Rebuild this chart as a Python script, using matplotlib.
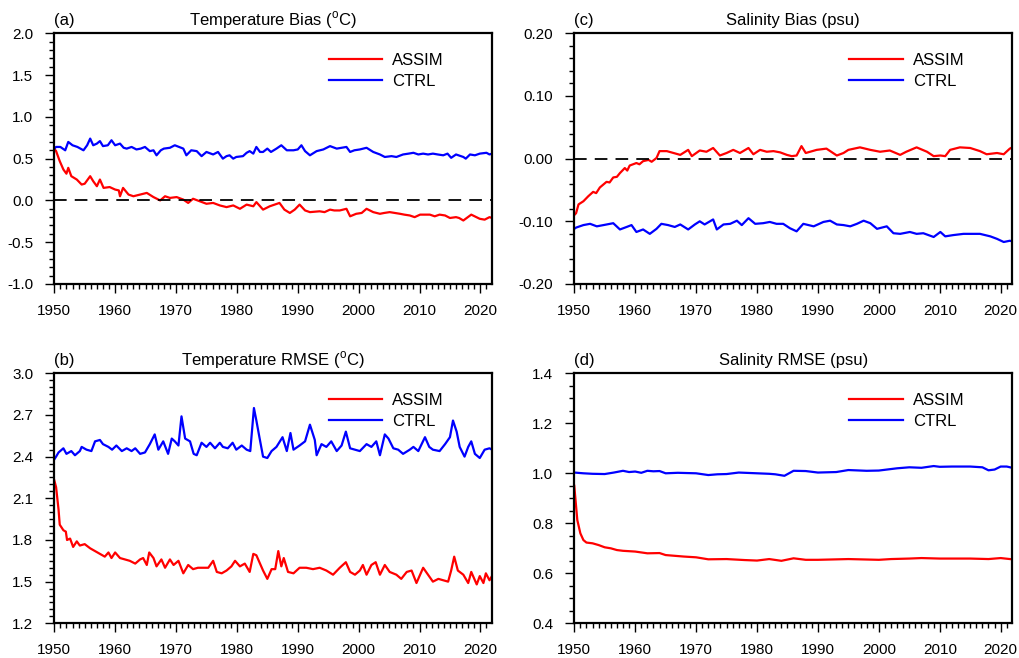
import matplotlib
matplotlib.use('Agg')
import matplotlib.pyplot as plt
import numpy as np
from matplotlib.ticker import MultipleLocator, FormatStrFormatter

plt.rcParams['font.family'] = ['Liberation Sans', 'DejaVu Sans']
plt.rcParams['mathtext.fontset'] = 'custom'
plt.rcParams['mathtext.rm'] = 'Liberation Sans'

# (a) temperature bias
tb_ctrl_yr = [1950.0, 1950.3, 1951.0, 1951.8, 1952.3, 1953.0, 1953.8, 1954.8, 1955.4, 1955.9,
              1956.4, 1957.0, 1957.5, 1958.0, 1958.8, 1959.4, 1960.0, 1960.8, 1961.4, 1961.9,
              1962.7, 1963.5, 1964.2, 1964.9, 1965.7, 1966.3, 1966.8, 1967.5, 1968.0, 1969.0,
              1969.8, 1970.5, 1971.2, 1971.7, 1972.5, 1973.4, 1974.2, 1975.0, 1976.1, 1976.9,
              1977.7, 1978.3, 1978.8, 1979.4, 1979.9, 1981.0, 1981.6, 1982.1, 1982.7, 1983.2,
              1983.8, 1984.3, 1985.0, 1985.6, 1986.5, 1987.3, 1988.2, 1989.3, 1990.0, 1990.6,
              1991.2, 1992.0, 1993.1, 1994.2, 1995.3, 1996.4, 1997.2, 1998.0, 1998.6, 1999.3,
              2000.2, 2001.3, 2002.4, 2003.5, 2004.3, 2005.4, 2006.2, 2007.3, 2008.2, 2009.0,
              2009.8, 2010.6, 2011.4, 2012.2, 2013.0, 2013.9, 2014.6, 2015.2, 2016.0, 2017.2,
              2017.6, 2018.3, 2019.1, 2019.9, 2021.0, 2021.5, 2021.9]
tb_ctrl = [0.62, 0.64, 0.64, 0.60, 0.70, 0.66, 0.64, 0.60, 0.66, 0.74,
           0.66, 0.68, 0.71, 0.65, 0.66, 0.72, 0.66, 0.68, 0.63, 0.62,
           0.64, 0.61, 0.62, 0.64, 0.59, 0.60, 0.54, 0.60, 0.62, 0.63,
           0.66, 0.64, 0.62, 0.54, 0.60, 0.59, 0.53, 0.58, 0.55, 0.58,
           0.50, 0.53, 0.54, 0.50, 0.52, 0.53, 0.57, 0.59, 0.56, 0.64,
           0.58, 0.58, 0.62, 0.58, 0.62, 0.66, 0.60, 0.60, 0.61, 0.66,
           0.59, 0.54, 0.59, 0.61, 0.65, 0.62, 0.63, 0.64, 0.58, 0.60,
           0.61, 0.63, 0.58, 0.55, 0.52, 0.53, 0.52, 0.55, 0.56, 0.57,
           0.55, 0.56, 0.55, 0.56, 0.55, 0.54, 0.56, 0.51, 0.55, 0.52,
           0.50, 0.55, 0.54, 0.56, 0.57, 0.55, 0.56]
tb_assim_yr = [1950.0, 1950.3, 1950.9, 1951.5, 1952.0, 1952.3, 1952.8, 1953.7, 1954.5, 1955.0,
               1955.9, 1956.4, 1957.0, 1957.5, 1958.1, 1959.1, 1960.0, 1960.6, 1960.8, 1961.3,
               1962.2, 1963.0, 1964.1, 1965.2, 1966.3, 1967.4, 1968.2, 1969.0, 1970.1, 1971.2,
               1972.0, 1972.8, 1973.9, 1975.0, 1976.1, 1977.2, 1978.3, 1979.4, 1980.5, 1981.6,
               1982.7, 1983.2, 1984.3, 1985.4, 1987.0, 1987.8, 1988.7, 1989.5, 1990.3, 1991.2,
               1992.0, 1993.6, 1994.4, 1995.3, 1996.0, 1996.9, 1998.0, 1998.6, 1999.6, 2000.5,
               2001.3, 2002.4, 2003.5, 2004.2, 2005.1, 2006.8, 2007.5, 2008.4, 2009.2, 2010.1,
               2011.7, 2012.5, 2013.3, 2014.2, 2015.0, 2016.0, 2016.5, 2017.2, 2018.5, 2019.9,
               2020.7, 2021.5, 2021.9]
tb_assim = [0.62, 0.59, 0.47, 0.37, 0.32, 0.39, 0.29, 0.25, 0.19, 0.20,
            0.29, 0.23, 0.17, 0.25, 0.15, 0.16, 0.13, 0.12, 0.05, 0.15,
            0.07, 0.05, 0.07, 0.09, 0.04, 0.00, 0.05, 0.03, 0.04, 0.01,
            -0.03, 0.02, -0.01, -0.04, -0.03, -0.06, -0.08, -0.06, -0.10, -0.05,
            -0.07, -0.02, -0.11, -0.07, -0.03, -0.11, -0.15, -0.11, -0.05, -0.12,
            -0.14, -0.13, -0.14, -0.11, -0.12, -0.12, -0.10, -0.19, -0.16, -0.15,
            -0.10, -0.14, -0.16, -0.15, -0.14, -0.16, -0.17, -0.18, -0.20, -0.17,
            -0.17, -0.19, -0.17, -0.18, -0.21, -0.20, -0.21, -0.24, -0.17, -0.22,
            -0.23, -0.20, -0.21]

# (b) temperature RMSE
tr_ctrl_yr = [1950.0, 1950.3, 1950.7, 1951.5, 1952.0, 1952.8, 1953.4, 1954.2, 1954.5, 1955.3,
              1956.1, 1956.7, 1957.5, 1958.0, 1958.9, 1959.5, 1960.2, 1961.1, 1961.9, 1962.7,
              1963.3, 1964.1, 1964.9, 1965.7, 1966.5, 1967.1, 1967.9, 1968.7, 1969.3, 1969.8,
              1970.4, 1970.9, 1971.5, 1972.3, 1972.9, 1973.4, 1974.2, 1975.0, 1975.6, 1976.4,
              1977.2, 1977.7, 1978.5, 1979.3, 1979.9, 1980.8, 1981.6, 1982.2, 1982.8, 1983.2,
              1983.7, 1984.3, 1985.0, 1985.7, 1986.5, 1987.5, 1988.2, 1988.8, 1989.3, 1990.3,
              1991.2, 1992.0, 1992.8, 1993.1, 1993.9, 1994.7, 1995.5, 1996.4, 1997.2, 1997.9,
              1998.6, 1999.4, 2000.2, 2001.3, 2002.1, 2002.9, 2003.5, 2004.3, 2004.9, 2005.7,
              2006.5, 2007.3, 2008.4, 2009.0, 2009.8, 2010.9, 2011.6, 2012.2, 2013.3, 2014.2,
              2015.0, 2015.5, 2016.1, 2016.6, 2017.4, 2018.0, 2018.5, 2019.1, 2019.9, 2020.7,
              2021.5, 2021.9]
tr_ctrl = [2.38, 2.40, 2.43, 2.46, 2.42, 2.44, 2.41, 2.44, 2.47, 2.45,
           2.44, 2.51, 2.52, 2.49, 2.47, 2.45, 2.48, 2.44, 2.46, 2.44,
           2.46, 2.42, 2.43, 2.49, 2.56, 2.45, 2.51, 2.42, 2.53, 2.51,
           2.48, 2.69, 2.53, 2.51, 2.42, 2.41, 2.50, 2.47, 2.50, 2.46,
           2.50, 2.47, 2.46, 2.50, 2.45, 2.48, 2.45, 2.44, 2.75, 2.66,
           2.54, 2.40, 2.39, 2.44, 2.47, 2.54, 2.44, 2.57, 2.45, 2.48,
           2.51, 2.63, 2.52, 2.41, 2.49, 2.47, 2.51, 2.44, 2.48, 2.58,
           2.46, 2.45, 2.44, 2.49, 2.47, 2.51, 2.41, 2.56, 2.53, 2.46,
           2.45, 2.42, 2.45, 2.47, 2.44, 2.54, 2.47, 2.45, 2.44, 2.49,
           2.54, 2.66, 2.58, 2.47, 2.40, 2.47, 2.51, 2.42, 2.39, 2.45,
           2.46, 2.45]
tr_assim_yr = [1950.0, 1950.3, 1950.7, 1950.9, 1951.5, 1951.9, 1952.1, 1952.6, 1953.1, 1953.7,
               1954.2, 1955.0, 1955.9, 1956.7, 1957.5, 1958.3, 1958.9, 1959.4, 1960.0, 1960.8,
               1961.6, 1962.4, 1963.3, 1964.1, 1964.6, 1965.2, 1965.6, 1966.3, 1966.8, 1967.6,
               1968.2, 1969.0, 1969.6, 1970.4, 1971.2, 1972.0, 1972.8, 1973.6, 1974.5, 1975.3,
               1976.1, 1976.7, 1977.5, 1978.3, 1979.1, 1979.7, 1980.5, 1981.3, 1982.1, 1982.7,
               1983.2, 1983.7, 1984.3, 1985.0, 1985.7, 1986.3, 1986.8, 1987.3, 1987.7, 1988.4,
               1989.3, 1990.3, 1991.4, 1992.5, 1993.6, 1994.7, 1995.8, 1996.9, 1997.9, 1998.6,
               1999.4, 2000.2, 2000.7, 2001.3, 2002.1, 2002.8, 2003.5, 2004.3, 2005.1, 2006.2,
               2007.0, 2007.9, 2008.7, 2009.5, 2010.6, 2011.4, 2012.2, 2013.1, 2013.9, 2014.7,
               2015.2, 2015.7, 2016.3, 2017.2, 2018.0, 2018.5, 2019.4, 2019.9, 2020.5, 2020.9,
               2021.5, 2021.9]
tr_assim = [2.23, 2.18, 2.02, 1.91, 1.87, 1.86, 1.80, 1.81, 1.75, 1.79,
            1.76, 1.77, 1.74, 1.72, 1.70, 1.68, 1.71, 1.67, 1.71, 1.67,
            1.66, 1.65, 1.63, 1.66, 1.67, 1.62, 1.71, 1.67, 1.61, 1.66,
            1.60, 1.66, 1.62, 1.65, 1.56, 1.62, 1.59, 1.60, 1.60, 1.60,
            1.65, 1.57, 1.56, 1.58, 1.61, 1.65, 1.61, 1.63, 1.57, 1.70,
            1.69, 1.64, 1.58, 1.52, 1.59, 1.59, 1.72, 1.61, 1.67, 1.57,
            1.56, 1.60, 1.60, 1.59, 1.60, 1.58, 1.55, 1.60, 1.64, 1.57,
            1.55, 1.58, 1.62, 1.55, 1.62, 1.64, 1.55, 1.62, 1.57, 1.55,
            1.52, 1.57, 1.58, 1.49, 1.60, 1.55, 1.50, 1.52, 1.51, 1.50,
            1.58, 1.68, 1.58, 1.55, 1.49, 1.57, 1.48, 1.54, 1.49, 1.56,
            1.51, 1.54]

# (c) salinity bias
sb_ctrl_yr = [1950.0, 1950.3, 1951.5, 1952.6, 1953.7, 1954.8, 1956.4, 1957.5, 1958.6, 1959.4,
              1960.2, 1961.3, 1962.4, 1963.5, 1964.3, 1965.4, 1966.5, 1967.4, 1968.7, 1969.8,
              1970.6, 1971.4, 1972.8, 1973.4, 1974.5, 1975.6, 1976.7, 1977.5, 1978.6, 1979.7,
              1981.0, 1982.1, 1983.2, 1984.3, 1985.4, 1986.5, 1987.6, 1989.3, 1990.9, 1992.0,
              1993.1, 1994.2, 1995.3, 1996.4, 1997.5, 1998.6, 1999.7, 2001.3, 2002.4, 2003.5,
              2005.1, 2006.2, 2007.3, 2009.0, 2010.1, 2010.9, 2012.2, 2013.9, 2015.0, 2016.6,
              2018.3, 2019.4, 2020.5, 2021.5, 2021.9]
sb_ctrl = [-0.112, -0.110, -0.106, -0.104, -0.108, -0.106, -0.103, -0.113, -0.109, -0.106,
           -0.117, -0.113, -0.120, -0.112, -0.104, -0.106, -0.109, -0.105, -0.113, -0.105,
           -0.100, -0.105, -0.097, -0.113, -0.105, -0.104, -0.099, -0.106, -0.095, -0.104,
           -0.103, -0.101, -0.104, -0.104, -0.111, -0.116, -0.104, -0.108, -0.101, -0.099,
           -0.105, -0.106, -0.108, -0.104, -0.099, -0.103, -0.112, -0.108, -0.119, -0.120,
           -0.117, -0.120, -0.119, -0.125, -0.117, -0.124, -0.122, -0.120, -0.120, -0.120,
           -0.124, -0.128, -0.133, -0.131, -0.132]
sb_assim_yr = [1950.0, 1950.3, 1950.7, 1951.5, 1952.3, 1953.1, 1953.6, 1954.2, 1955.3, 1955.8,
               1956.4, 1957.0, 1957.5, 1958.3, 1958.7, 1959.1, 1960.2, 1960.7, 1961.3, 1962.2,
               1962.7, 1963.5, 1964.0, 1965.2, 1966.3, 1967.4, 1968.7, 1969.3, 1970.6, 1971.7,
               1972.8, 1973.9, 1975.0, 1976.1, 1977.2, 1978.6, 1979.4, 1980.5, 1981.6, 1982.7,
               1983.8, 1984.9, 1985.7, 1986.5, 1987.3, 1988.0, 1989.8, 1991.4, 1993.1, 1994.2,
               1995.0, 1996.9, 1998.6, 2000.2, 2001.8, 2003.5, 2004.5, 2006.2, 2007.9, 2009.0,
               2010.1, 2010.9, 2011.7, 2013.3, 2015.0, 2016.6, 2017.7, 2019.4, 2020.5, 2021.5,
               2021.9]
sb_assim = [-0.090, -0.087, -0.073, -0.068, -0.060, -0.053, -0.055, -0.046, -0.037, -0.038,
            -0.030, -0.029, -0.023, -0.015, -0.019, -0.011, -0.007, -0.009, -0.004, -0.002,
            -0.005, 0.001, 0.012, 0.012, 0.009, 0.006, 0.014, 0.004, 0.013, 0.011,
            0.017, 0.005, 0.009, 0.014, 0.009, 0.017, 0.007, 0.014, 0.011, 0.012,
            0.010, 0.006, 0.004, 0.005, 0.020, 0.009, 0.014, 0.016, 0.005, 0.009,
            0.014, 0.018, 0.014, 0.011, 0.013, 0.006, 0.011, 0.018, 0.011, 0.004,
            0.005, 0.004, 0.014, 0.018, 0.017, 0.012, 0.007, 0.009, 0.007, 0.016,
            0.018]

# (d) salinity RMSE
sr_ctrl_yr = [1950.0, 1951.5, 1953.0, 1955.0, 1956.5, 1958.0, 1959.0, 1960.0, 1961.0, 1962.0,
              1963.0, 1964.0, 1965.0, 1967.0, 1970.0, 1972.0, 1973.5, 1975.0, 1977.0, 1980.0,
              1982.0, 1983.0, 1984.5, 1986.0, 1988.0, 1990.0, 1993.0, 1995.0, 1998.0, 2000.0,
              2003.0, 2005.0, 2007.0, 2009.0, 2010.0, 2012.0, 2015.0, 2017.0, 2018.0, 2019.0,
              2020.0, 2021.0, 2021.9]
sr_ctrl = [1.003, 1.000, 0.998, 0.997, 1.003, 1.010, 1.005, 1.007, 1.002, 1.010,
           1.008, 1.009, 1.000, 1.002, 1.000, 0.993, 0.996, 0.997, 1.003, 1.000,
           0.998, 0.996, 0.990, 1.010, 1.009, 1.003, 1.005, 1.013, 1.010, 1.011,
           1.020, 1.024, 1.022, 1.029, 1.026, 1.027, 1.027, 1.024, 1.012, 1.015,
           1.027, 1.027, 1.022]
sr_assim_yr = [1950.0, 1950.5, 1951.0, 1951.5, 1952.0, 1953.0, 1954.0, 1955.0, 1956.0, 1957.0,
               1958.0, 1960.0, 1962.0, 1964.0, 1965.0, 1968.0, 1970.0, 1972.0, 1975.0, 1978.0,
               1980.0, 1982.0, 1984.0, 1986.0, 1988.0, 1990.0, 1995.0, 2000.0, 2002.0, 2005.0,
               2007.0, 2010.0, 2015.0, 2018.0, 2020.0, 2021.9]
sr_assim = [0.950, 0.813, 0.760, 0.733, 0.723, 0.720, 0.713, 0.704, 0.700, 0.693,
            0.690, 0.687, 0.680, 0.681, 0.673, 0.667, 0.664, 0.656, 0.657, 0.653,
            0.651, 0.657, 0.650, 0.660, 0.654, 0.654, 0.657, 0.654, 0.657, 0.659,
            0.661, 0.659, 0.659, 0.657, 0.661, 0.656]


def panel(rect, tag, title, xa, ya, xc, yc, ymin, ymax, step, nminor, fmt, zero):
    ax = fig.add_axes(rect)
    ax.plot(xa, ya, color='red', lw=1.6, label='ASSIM')
    ax.plot(xc, yc, color='blue', lw=1.6, label='CTRL')
    if zero:
        ax.axhline(0, color='black', lw=1.3, ls=(0, (7, 4.5)))
    ax.set_xlim(1950, 2021.9)
    ax.set_ylim(ymin, ymax)
    ax.set_xticks(np.arange(1950, 2021, 10))
    ax.xaxis.set_minor_locator(MultipleLocator(1))
    ax.set_yticks(np.linspace(ymin, ymax, int(round((ymax - ymin) / step)) + 1))
    ax.yaxis.set_minor_locator(MultipleLocator(step / nminor))
    ax.yaxis.set_major_formatter(FormatStrFormatter(fmt))
    ax.tick_params(which='both', direction='out', top=False, right=False, width=1.0)
    ax.tick_params(which='major', length=6.5, labelsize=11)
    ax.tick_params(axis='x', which='major', pad=8)
    ax.tick_params(axis='y', which='major', pad=8.5)
    ax.tick_params(which='minor', length=3.5)
    for s in ax.spines.values():
        s.set_linewidth(1.6)
    ax.set_title(title, fontsize=12, pad=6)
    ax.set_title(tag, loc='left', fontsize=12, pad=6)
    ax.legend(loc='upper left', bbox_to_anchor=(0.628, 0.922), frameon=False, fontsize=12,
              handlelength=3.2, handletextpad=0.6, borderpad=0, borderaxespad=0,
              labelspacing=0.38)
    return ax


fig = plt.figure(figsize=(10.2, 6.58), dpi=100)
panel([0.0532, 0.5684, 0.4291, 0.381], '(a)', r'Temperature Bias ($^{\mathrm{o}}$C)',
      tb_assim_yr, tb_assim, tb_ctrl_yr, tb_ctrl, -1.0, 2.0, 0.5, 5, '%.1f', True)
panel([0.0532, 0.0527, 0.4291, 0.380], '(b)', r'Temperature RMSE ($^{\mathrm{o}}$C)',
      tr_assim_yr, tr_assim, tr_ctrl_yr, tr_ctrl, 1.2, 3.0, 0.3, 6, '%.1f', False)
panel([0.5630, 0.5684, 0.4294, 0.381], '(c)', 'Salinity Bias (psu)',
      sb_assim_yr, sb_assim, sb_ctrl_yr, sb_ctrl, -0.2, 0.2, 0.1, 5, '%.2f', True)
panel([0.5630, 0.0527, 0.4294, 0.380], '(d)', 'Salinity RMSE (psu)',
      sr_assim_yr, sr_assim, sr_ctrl_yr, sr_ctrl, 0.4, 1.4, 0.2, 4, '%.1f', False)

fig.savefig('out.png', dpi=100)
